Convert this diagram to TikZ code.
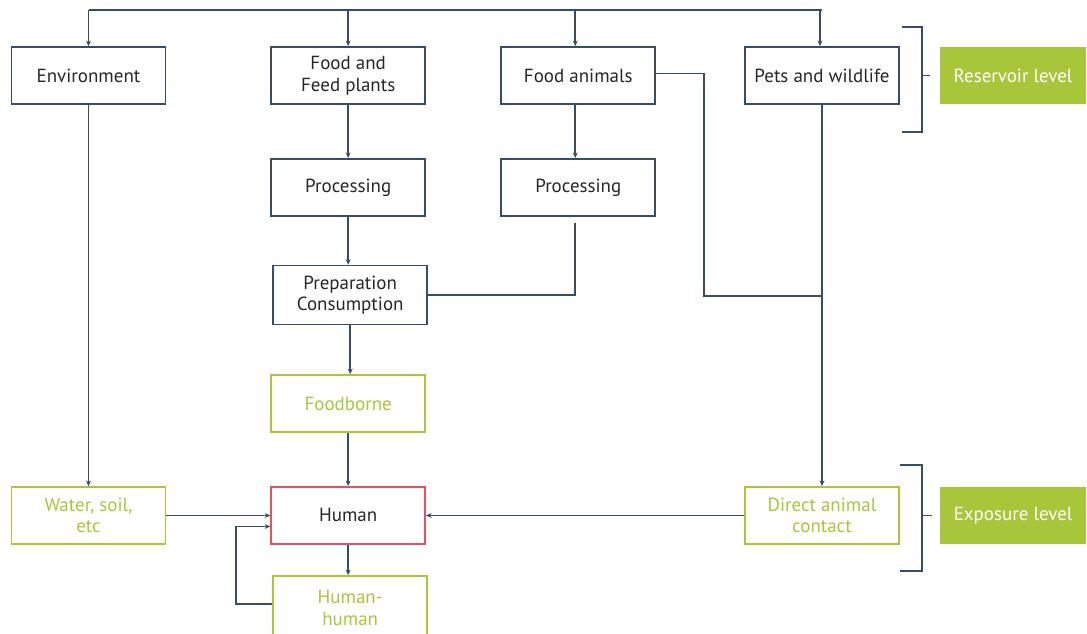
\documentclass[tikz,border=0pt]{standalone}
\usepackage{fontspec}
\setmainfont{PT Sans}
\usetikzlibrary{positioning}
\usetikzlibrary{arrows.meta}
\definecolor{linecol}{RGB}{55,76,104}
\definecolor{greencol}{RGB}{168,198,58}
\definecolor{redcol}{RGB}{232,80,96}
\tikzset{
	block/.style={
		rectangle,
		draw=linecol,
		line width=1.2pt,
		align=center,
		minimum width=3.85cm,
		minimum height=1.425cm,
		font=\fontsize{13.5}{15.5}\selectfont,
		text=black!85
	},
	greenblock/.style={
		block,
		draw=greencol,
		text=greencol
	},
	levelbox/.style={
		rectangle,
		fill=greencol,
		text=white,
		minimum width=3.65cm,
		minimum height=1.425cm,
		font=\fontsize{13.5}{15.5}\selectfont
	},
	line/.style={
		draw=linecol,
		line width=1.3pt
	},
	>={Stealth[length=4pt,width=3.5pt]}
}

\begin{document}
\begin{tikzpicture}
				\useasboundingbox (0,0) rectangle (27.175,-15.825);
				\node[block] (Env) at (2.2125,-1.8875){Environment};
				\node[block, right=2.6cm of Env] (Plants){Food and\\ Feed plants};
				\node[block, right=1.86cm of Plants] (Animals){Food animals};
				\node[block, right=2.2cm of Animals] (Pets){Pets and wildlife};
				\node[levelbox, right=1cm of Pets] (Reservoir){Reservoir level};
				
				\node[block, below=1.33cm of Plants] (ProcP){Processing};
				\node[block, below=1.33cm of Animals] (ProcA){Processing};
				\node[block, below=1.2cm of ProcP, xshift=0.05cm, minimum height=1.475cm] (Prep){Preparation\\ Consumption};
				\node[greenblock, below=1.22cm of Prep, xshift=-0.05cm] (Foodborne){Foodborne};
				\node[block, draw=redcol, below=1.33cm of Foodborne] (Human){Human};
				\node[greenblock, below=0.76cm of Human, xshift=0.05cm, minimum height=1.6cm] (HumHum){Human-\\ human};
				\node[greenblock, at={(Human -| Env)}] (Water){Water, soil,\\ etc};
				\node[greenblock, at={(Human -| Pets)}] (Contact){Direct animal\\ contact};
				\node[levelbox, at={(Contact -| Reservoir)}] (Exposure){Exposure level};
				
				\coordinate (top) at ([yshift=0.9cm]Env.north);
				\draw[line] (top) -- (top -| Pets.north);
				\draw[line, ->] (top) -- (Env.north);
				\draw[line, ->] (top -| Plants.north) -- (Plants.north);
				\draw[line, ->] ([xshift=-0.075cm]top -| Animals.north) -- ([xshift=-0.075cm]Animals.north);
				\draw[line, ->] ([xshift=-0.05cm]top -| Pets.north) -- ([xshift=-0.05cm]Pets.north);
				
				\draw[line, ->] (Plants) -- (ProcP);
				\draw[line, ->] ([xshift=-0.075cm]Animals.south) -- ([xshift=-0.075cm]ProcA.north);
				\draw[line, ->] (ProcP.south) -- (ProcP.south |- Prep.north);
				\draw[line] ([xshift=-0.075cm,yshift=-0.15cm]ProcA.south) |- (Prep.east);
				\coordinate (join) at ([yshift=-0.025cm]Prep.east -| Pets.south);
				\draw[line] ([yshift=0.05cm]Animals.east) -| ([xshift=1.2cm,yshift=0.05cm]Animals.east) |- (join);
				\draw[line, ->] (Pets.south) -- (Contact.north);
				\draw[line, ->] (Prep.south) -- (Prep.south |- Foodborne.north);
				\draw[line, ->] (Foodborne) -- (Human);
				\draw[line, ->] (Env) -- (Water);
				\draw[line, ->] (Water.east) -- (Human.west);
				\draw[line, ->] (Contact.west) -- (Human.east);
				\draw[line, ->] (Human.south) -- (Human.south |- HumHum.north);
				\coordinate (loop) at ([xshift=-0.85cm,yshift=-0.275cm]Human.west);
				\draw[line, ->] ([yshift=0.1cm]HumHum.west) -| (loop) -- ([yshift=-0.275cm]Human.west);
				
				% brackets
				\draw[line] ([xshift=0.05cm,yshift=0.475cm]Pets.north east) -| ([xshift=0.55cm,yshift=-0.675cm]Pets.south east) -- ([xshift=0.05cm,yshift=-0.675cm]Pets.south east);
				\draw[line] ([xshift=0.55cm]Pets.east) -- ([xshift=0.75cm]Pets.east);
				\draw[line] ([yshift=0.525cm]Contact.north east) -| ([xshift=0.55cm,yshift=-0.65cm]Contact.south east) -- ([yshift=-0.65cm]Contact.south east);
				\draw[line] ([xshift=0.55cm]Contact.east) -- ([xshift=0.8cm]Contact.east);
			\end{tikzpicture}
\end{document}
